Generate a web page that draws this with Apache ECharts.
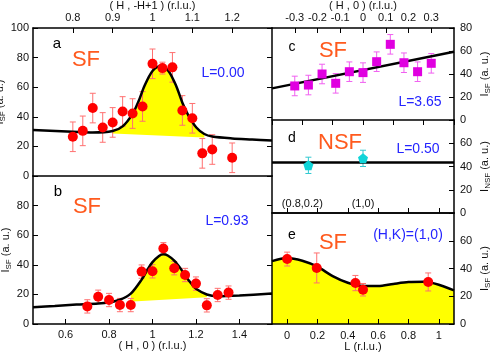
<!DOCTYPE html>
<html>
<head>
<meta charset="utf-8">
<script src="https://cdn.jsdelivr.net/npm/echarts@6/dist/echarts.min.js"></script>
<style>
  html, body { margin: 0; padding: 0; background: #fff; }
  #chart { width: 495px; height: 354px; }
</style>
</head>
<body>
<div id="chart"></div>
<script>
// panel a : (H,-H+1) scan, SF, L=0.00
var aH = [0.8, 0.825, 0.85, 0.875, 0.9, 0.925, 0.95, 0.975, 1.0, 1.025, 1.05, 1.075, 1.1, 1.125, 1.15, 1.2];
var aI = [26.5, 30.5, 45.9, 32.8, 36.2, 43.6, 42.2, 47.0, 75.8, 72.9, 73.4, 44.3, 39.0, 15.3, 17.9, 12.3];
var aErr = [10, 10, 10, 10, 10, 10, 10, 10, 10, 4, 10, 10, 10, 10, 10, 10];
var aFitH = [0.7, 0.8, 0.85, 0.9, 0.925, 0.95, 0.965, 0.98, 1.0, 1.02, 1.04, 1.06, 1.075, 1.09, 1.11, 1.13, 1.15, 1.2, 1.25, 1.3];
var aFit = [31.0, 29.9, 29.4, 30.4, 33.5, 42.0, 50.5, 61.0, 71.0, 74.4, 71.0, 60.5, 49.5, 41.0, 32.8, 28.4, 26.7, 25.4, 24.7, 24.0];
var aBaseH = [0.7, 1.3];
var aBase = [31.0, 24.0];
var aFillRange = [0.9, 1.13];

// panel b : (H,0) scan, SF, L=0.93
var bH = [0.7, 0.75, 0.8, 0.85, 0.9, 0.95, 1.0, 1.05, 1.1, 1.15, 1.2, 1.25, 1.3, 1.35];
var bI = [11.9, 18.4, 16.2, 12.8, 12.8, 35.4, 35.6, 51.0, 37.7, 33.1, 27.3, 12.6, 19.6, 21.2];
var bErr = [4.5, 4.5, 4.5, 4.5, 4.5, 4.5, 4.5, 4, 4.5, 4.5, 4.5, 4.5, 4.5, 4.5];
var bFitH = [0.45, 0.55, 0.65, 0.75, 0.8, 0.85, 0.9, 0.95, 0.98, 1.0, 1.03, 1.05, 1.07, 1.1, 1.13, 1.15, 1.18, 1.2, 1.25, 1.3, 1.4, 1.55];
var bFit = [11.4, 12.2, 13.1, 13.9, 14.7, 16.4, 20.5, 30.0, 37.5, 41.8, 46.0, 47.1, 46.3, 42.8, 37.3, 32.8, 27.0, 23.8, 19.9, 18.8, 19.3, 20.6];
var bBaseH = [0.45, 1.55];
var bBase = [11.4, 20.6];
var bFillRange = [0.86, 1.25];

// panel c : (H,0) scan, SF, L=3.65
var cH = [-0.3, -0.24, -0.18, -0.12, -0.06, 0, 0.06, 0.12, 0.18, 0.24, 0.3];
var cI = [29.6, 30.4, 40.0, 31.9, 42.0, 41.2, 50.7, 65.8, 49.8, 42.0, 49.3];
var cErr = [8.5, 8.5, 8.5, 8.5, 8.5, 8.5, 8.5, 8.5, 8.5, 8.5, 8.5];
var cLineH = [-0.4, 0.4];
var cLine = [27.5, 59.4];

// panel d : NSF, L=0.50
var dH = [0.82, 1.0];
var dI = [41.0, 47.0];
var dErr = [7, 7];
var dLineH = [0.7, 1.3];
var dLine = [43.4, 43.4];
var dTickVals = [0.8, 1.0];
var dTickText = ['(0.8,0.2)', '(1,0)'];

// panel e : L scan at (H,K)=(1,0), SF
var eL = [0, 0.195, 0.45, 0.5, 0.93];
var eI = [46.8, 40.4, 29.5, 24.7, 30.3];
var eErr = [5, 10.8, 5.5, 4.5, 6.5];
var eFitL = [-0.1, 0, 0.1, 0.2, 0.3, 0.4, 0.5, 0.6, 0.7, 0.8, 0.9, 1.0, 1.1];
var eFit = [45.3, 47.6, 45.6, 41.3, 34.5, 29.7, 27.3, 27.4, 28.9, 30.2, 30.4, 28.3, 24.2];

var bTicks = [0.6, 0.8, 1.0, 1.2, 1.4];
var eTicks = [0, 0.2, 0.4, 0.6, 0.8, 1.0];

var FONT = '"Liberation Sans", Arial, sans-serif';
var ORANGE = '#ff5a1e';
var BLUE = '#2424ff';

function zip(xs, ys) {
    return xs.map(function (x, i) { return [x, ys[i]]; });
}
function zip3(xs, ys, es) {
    return xs.map(function (x, i) { return [x, ys[i], es[i]]; });
}
function inRange(xs, ys, r) {
    return zip(xs, ys).filter(function (p) { return p[0] >= r[0] - 1e-9 && p[0] <= r[1] + 1e-9; });
}

var labelStyle = { color: '#111', fontSize: 11, fontFamily: FONT };

function deepMerge(a, b) {
    for (var k in b) {
        if (b[k] && typeof b[k] === 'object' && !Array.isArray(b[k]) && a[k] && typeof a[k] === 'object') {
            a[k] = deepMerge(Object.assign({}, a[k]), b[k]);
        } else {
            a[k] = b[k];
        }
    }
    return a;
}
// one axis builder for all panels (ticks inward, black frame line)
function ax(o) {
    var base = {
        type: 'value',
        z: 5,
        axisLine: { show: true, onZero: false, lineStyle: { color: '#000', width: 1.5 } },
        axisTick: { show: true, inside: true, length: 5, lineStyle: { color: '#000', width: 1 } },
        axisLabel: Object.assign({ show: true, margin: 5 }, labelStyle),
        splitLine: { show: false },
        nameTextStyle: { color: '#111', fontSize: 11, fontFamily: FONT },
        nameLocation: 'middle'
    };
    return deepMerge(base, o);
}

function yName(sub) {
    return '{i|I}{s|' + sub + '}{i| (a. u.)}';
}
var yRich = {
    i: { fontSize: 11, fontFamily: FONT, color: '#111' },
    s: { fontSize: 8, fontFamily: FONT, color: '#111', padding: [6, 0, 0, 0] }
};

// error bars through the axis scales
function errSeries(xi, yi, data, color) {
    return {
        type: 'custom',
        xAxisIndex: xi,
        yAxisIndex: yi,
        z: 3,
        clip: true,
        encode: { x: 0, y: 1 },
        data: data,
        renderItem: function (params, api) {
            var x = api.value(0), y = api.value(1), e = api.value(2);
            var top = api.coord([x, y + e]);
            var bot = api.coord([x, y - e]);
            var st = { stroke: color, lineWidth: 1 };
            var cap = 3;
            return {
                type: 'group',
                children: [
                    { type: 'line', shape: { x1: top[0], y1: top[1], x2: bot[0], y2: bot[1] }, style: st },
                    { type: 'line', shape: { x1: top[0] - cap, y1: top[1], x2: top[0] + cap, y2: top[1] }, style: st },
                    { type: 'line', shape: { x1: bot[0] - cap, y1: bot[1], x2: bot[0] + cap, y2: bot[1] }, style: st }
                ]
            };
        }
    };
}
function dots(xi, yi, data, color, symbol, size) {
    return {
        type: 'scatter', xAxisIndex: xi, yAxisIndex: yi, z: 4,
        symbol: symbol, symbolSize: size, data: data,
        itemStyle: { color: color, opacity: 1 }
    };
}
function fitLine(xi, yi, data, smooth) {
    return {
        type: 'line', xAxisIndex: xi, yAxisIndex: yi, z: 3,
        showSymbol: false, smooth: smooth, data: data,
        lineStyle: { color: '#000', width: 2.5 }
    };
}
function areaLine(xi, yi, data, color, smooth, z) {
    return {
        type: 'line', xAxisIndex: xi, yAxisIndex: yi, z: z,
        showSymbol: false, smooth: smooth, data: data,
        lineStyle: { width: 0, opacity: 0 },
        areaStyle: { color: color, opacity: 1 }
    };
}
function txt(x, y, s, size, color) {
    return {
        type: 'text', x: x, y: y, z: 100,
        style: {
            text: s, font: size + 'px ' + FONT, fill: color,
            align: 'center', verticalAlign: 'middle',
            textAlign: 'center', textVerticalAlign: 'middle'
        }
    };
}

var myChart = echarts.init(document.getElementById('chart'), null, { renderer: 'canvas' });

var option = {
    backgroundColor: '#fff',
    animation: false,
    grid: [
        { left: 33, top: 28, width: 239, height: 148, outerBoundsMode: 'none', containLabel: false },   // a
        { left: 33, top: 176, width: 239, height: 148, outerBoundsMode: 'none', containLabel: false },  // b
        { left: 272, top: 28, width: 182, height: 92, outerBoundsMode: 'none', containLabel: false },   // c
        { left: 272, top: 120, width: 182, height: 93, outerBoundsMode: 'none', containLabel: false },  // d
        { left: 272, top: 213, width: 182, height: 111, outerBoundsMode: 'none', containLabel: false }  // e
    ],
    xAxis: [
        ax({ gridIndex: 0, position: 'top', min: 0.7, max: 1.3, interval: 0.1,
             axisLabel: { showMinLabel: false, showMaxLabel: false },
             name: '( H , -H+1 ) (r.l.u.)', nameGap: 14 }),
        ax({ gridIndex: 1, position: 'bottom', min: 0.45, max: 1.55,
             axisLabel: { customValues: bTicks, margin: 5 },
             axisTick: { customValues: bTicks },
             name: '( H , 0 ) (r.l.u.)', nameGap: 15 }),
        ax({ gridIndex: 2, position: 'top', min: -0.4, max: 0.4, interval: 0.1,
             axisLabel: { showMinLabel: false, showMaxLabel: false },
             name: '( H , 0 ) (r.l.u.)', nameGap: 14 }),
        ax({ gridIndex: 3, position: 'bottom', min: 0.7, max: 1.3,
             axisTick: { show: false },
             axisLabel: { inside: true, margin: 4, customValues: dTickVals,
                          formatter: function (v) {
                              var i = dTickVals.indexOf(Math.round(v * 10) / 10);
                              return i >= 0 ? dTickText[i] : '';
                          } } }),
        ax({ gridIndex: 3, position: 'top', min: 0.7, max: 1.3, interval: 0.1,
             axisLabel: { show: false } }),
        ax({ gridIndex: 4, position: 'bottom', min: -0.1, max: 1.1,
             axisLabel: { customValues: eTicks, margin: 6 },
             axisTick: { customValues: eTicks },
             name: 'L (r.l.u.)', nameGap: 16 }),
        ax({ gridIndex: 4, position: 'top', min: -0.1, max: 1.1,
             axisLabel: { show: false },
             axisTick: { inside: false, customValues: eTicks } }),
        ax({ gridIndex: 0, position: 'bottom', min: 0.7, max: 1.3,
             axisLabel: { show: false }, axisTick: { show: false } })
    ],
    yAxis: [
        ax({ gridIndex: 0, position: 'left', min: 0, max: 100, interval: 20,
             axisLabel: { margin: 4 },
             name: yName('SF'), nameRotate: 90, nameGap: 16,
             nameTextStyle: { rich: yRich } }),
        ax({ gridIndex: 0, position: 'right', min: 0, max: 100, interval: 20,
             axisLabel: { show: false } }),
        ax({ gridIndex: 1, position: 'left', min: 0, max: 100, interval: 20,
             axisLabel: { margin: 4, showMaxLabel: false },
             name: yName('SF'), nameRotate: 90, nameGap: 16,
             nameTextStyle: { rich: yRich } }),
        ax({ gridIndex: 1, position: 'right', min: 0, max: 100, interval: 20,
             axisLabel: { show: false } }),
        ax({ gridIndex: 2, position: 'right', min: 0, max: 80, interval: 20,
             axisLabel: { margin: 6 },
             name: yName('SF'), nameRotate: 90, nameGap: 24,
             nameTextStyle: { rich: yRich } }),
        ax({ gridIndex: 3, position: 'right', min: 0, max: 80, interval: 20,
             axisLabel: { margin: 6, showMaxLabel: false },
             name: yName('NSF'), nameRotate: 90, nameGap: 24,
             nameTextStyle: { rich: yRich } }),
        ax({ gridIndex: 4, position: 'right', min: 0, max: 80, interval: 20,
             axisLabel: { margin: 6, showMaxLabel: false },
             name: yName('SF'), nameRotate: 90, nameGap: 24,
             nameTextStyle: { rich: yRich } })
    ],
    series: [
        // a
        areaLine(0, 0, inRange(aFitH, aFit, aFillRange), '#ffff00', 0.3, 1),
        areaLine(0, 0, zip(aBaseH, aBase), '#ffffff', false, 1.5),
        fitLine(0, 0, zip(aFitH, aFit), 0.3),
        errSeries(0, 0, zip3(aH, aI, aErr), '#ff7070'),
        dots(0, 0, zip(aH, aI), '#ff0000', 'circle', 10),
        // b
        areaLine(1, 2, inRange(bFitH, bFit, bFillRange), '#ffff00', 0.3, 1),
        areaLine(1, 2, zip(bBaseH, bBase), '#ffffff', false, 1.5),
        fitLine(1, 2, zip(bFitH, bFit), 0.3),
        errSeries(1, 2, zip3(bH, bI, bErr), '#ff7070'),
        dots(1, 2, zip(bH, bI), '#ff0000', 'circle', 10),
        // c
        fitLine(2, 4, zip(cLineH, cLine), false),
        errSeries(2, 4, zip3(cH, cI, cErr), '#f060f0'),
        dots(2, 4, zip(cH, cI), '#e000e0', 'rect', 9),
        // d
        fitLine(3, 5, zip(dLineH, dLine), false),
        errSeries(3, 5, zip3(dH, dI, dErr), '#30c8d0'),
        dots(3, 5, zip(dH, dI), '#10d4d8', 'path://M0,-10L9.5,-3.1L5.9,8.1L-5.9,8.1L-9.5,-3.1Z', 10),
        // e
        areaLine(5, 6, zip(eFitL, eFit), '#ffff00', 0.3, 1),
        fitLine(5, 6, zip(eFitL, eFit), 0.3),
        errSeries(5, 6, zip3(eL, eI, eErr), '#ff7070'),
        dots(5, 6, zip(eL, eI), '#ff0000', 'circle', 10)
    ],
    graphic: [
        txt(57, 44, 'a', 15, '#000'),
        txt(86, 60, 'SF', 22, ORANGE),
        txt(223, 73, 'L=0.00', 14, BLUE),
        txt(58, 192, 'b', 15, '#000'),
        txt(87, 207, 'SF', 22, ORANGE),
        txt(227, 221, 'L=0.93', 14, BLUE),
        txt(292, 47, 'c', 14, '#000'),
        txt(333, 51, 'SF', 22, ORANGE),
        txt(420, 102, 'L=3.65', 14, BLUE),
        txt(292, 138, 'd', 14, '#000'),
        txt(340, 143, 'NSF', 22, ORANGE),
        txt(418, 149, 'L=0.50', 14, BLUE),
        txt(292, 235, 'e', 14, '#000'),
        txt(333, 243, 'SF', 22, ORANGE),
        txt(408, 235, '(H,K)=(1,0)', 14, BLUE)
    ]
};
myChart.setOption(option);
</script>
</body>
</html>
